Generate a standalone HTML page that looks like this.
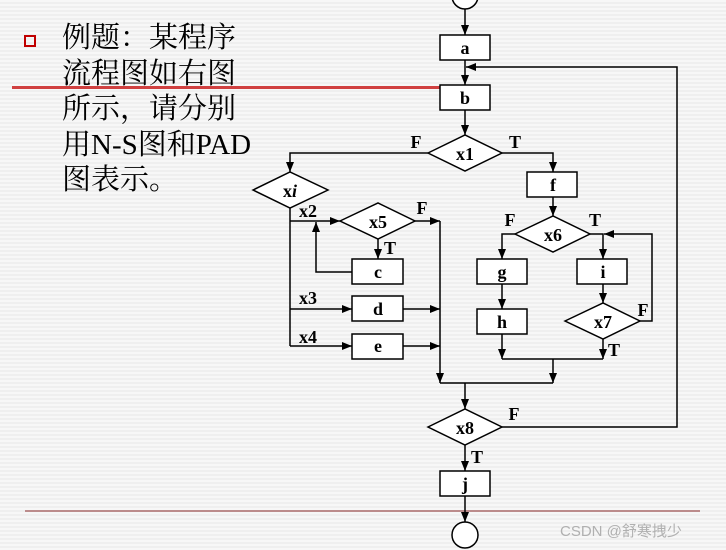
<!DOCTYPE html>
<html><head><meta charset="utf-8"><style>
html,body{margin:0;padding:0;}
body{width:726px;height:550px;overflow:hidden;background:repeating-linear-gradient(#f7f7f7 0,#f7f7f7 2px,#efefef 2px,#efefef 4px);position:relative;}
.t{position:absolute;left:62px;top:21px;font-family:"Liberation Serif","Noto Serif CJK SC",serif;font-size:29px;line-height:35.5px;color:#000;white-space:nowrap;}
</style></head><body>
<div style="position:absolute;left:12px;top:86px;width:428px;height:3px;background:#d04040;"></div>
<div style="position:absolute;left:24px;top:35px;width:8px;height:8px;border:2px solid #c00000;"></div>
<div class="t">例题：某程序<br>流程图如右图<br>所示，请分别<br>用N-S图和PAD<br>图表示。</div>
<svg width="726" height="550" style="position:absolute;left:0;top:0" xmlns="http://www.w3.org/2000/svg">
<defs><marker id="a" markerWidth="10" markerHeight="8" refX="10" refY="4" orient="auto" markerUnits="userSpaceOnUse"><path d="M0,0 L10,4 L0,8 z" fill="#000"/></marker></defs>
<line x1="25" y1="511" x2="700" y2="511" stroke="#8a2a2a" stroke-width="1"/>
<g stroke="#000" stroke-width="1.5" fill="none">
<circle cx="465" cy="-4" r="13" fill="#fff"/>
<line x1="465" y1="9" x2="465" y2="35" marker-end="url(#a)"/>
<rect x="440" y="35" width="50" height="25" fill="#fff"/>
<line x1="465" y1="60" x2="465" y2="85" marker-end="url(#a)"/>
<rect x="440" y="85" width="50" height="25" fill="#fff"/>
<line x1="465" y1="110" x2="465" y2="135" marker-end="url(#a)"/>
<polygon points="428,153 465,135 502,153 465,171" fill="#fff"/>
<polyline points="428,153 290,153 290,172" marker-end="url(#a)"/>
<polygon points="253,190 290,172 328,190 290,208" fill="#fff"/>
<line x1="290" y1="208" x2="290" y2="346"/>
<line x1="290" y1="221" x2="340" y2="221" marker-end="url(#a)"/>
<polygon points="340,221 378,203 415,221 378,239" fill="#fff"/>
<line x1="415" y1="221" x2="440" y2="221" marker-end="url(#a)"/>
<line x1="440" y1="221" x2="440" y2="383" marker-end="url(#a)"/>
<line x1="378" y1="239" x2="378" y2="259" marker-end="url(#a)"/>
<rect x="352" y="259" width="51" height="25" fill="#fff"/>
<polyline points="352,272 316,272 316,222" marker-end="url(#a)"/>
<line x1="290" y1="309" x2="352" y2="309" marker-end="url(#a)"/>
<rect x="352" y="296" width="51" height="25" fill="#fff"/>
<line x1="403" y1="309" x2="440" y2="309" marker-end="url(#a)"/>
<line x1="290" y1="346" x2="352" y2="346" marker-end="url(#a)"/>
<rect x="352" y="334" width="51" height="25" fill="#fff"/>
<line x1="403" y1="346" x2="440" y2="346" marker-end="url(#a)"/>
<polyline points="502,153 553,153 553,172" marker-end="url(#a)"/>
<rect x="527" y="172" width="50" height="25" fill="#fff"/>
<line x1="553" y1="197" x2="553" y2="216" marker-end="url(#a)"/>
<polygon points="515,234 553,216 590,234 553,252" fill="#fff"/>
<polyline points="515,234 502,234 502,259" marker-end="url(#a)"/>
<rect x="477" y="259" width="50" height="25" fill="#fff"/>
<line x1="502" y1="284" x2="502" y2="309" marker-end="url(#a)"/>
<rect x="477" y="309" width="50" height="25" fill="#fff"/>
<line x1="502" y1="334" x2="502" y2="359" marker-end="url(#a)"/>
<polyline points="590,234 603,234 603,259" marker-end="url(#a)"/>
<rect x="577" y="259" width="50" height="25" fill="#fff"/>
<line x1="603" y1="284" x2="603" y2="303" marker-end="url(#a)"/>
<polygon points="565,321 603,303 640,321 603,339" fill="#fff"/>
<polyline points="640,321 652,321 652,234 604,234" marker-end="url(#a)"/>
<line x1="603" y1="339" x2="603" y2="359" marker-end="url(#a)"/>
<line x1="502" y1="359" x2="603" y2="359"/>
<line x1="553" y1="359" x2="553" y2="383" marker-end="url(#a)"/>
<line x1="440" y1="383" x2="553" y2="383"/>
<line x1="465" y1="383" x2="465" y2="409" marker-end="url(#a)"/>
<polygon points="428,427 465,409 502,427 465,445" fill="#fff"/>
<polyline points="502,427 677,427 677,67 466,67" marker-end="url(#a)"/>
<line x1="465" y1="445" x2="465" y2="471" marker-end="url(#a)"/>
<rect x="440" y="471" width="50" height="25" fill="#fff"/>
<line x1="465" y1="496" x2="465" y2="522" marker-end="url(#a)"/>
<circle cx="465" cy="535" r="13" fill="#fff"/>
</g>
<g font-family="Liberation Serif,serif" font-weight="bold" font-size="18" text-anchor="middle" fill="#000">
<text x="465" y="54">a</text><text x="465" y="104">b</text>
<text x="465" y="160">x1</text><text x="290" y="197">x<tspan font-style="italic">i</tspan></text>
<text x="378" y="228">x5</text><text x="378" y="278">c</text><text x="378" y="315">d</text><text x="378" y="352">e</text>
<text x="553" y="191">f</text><text x="553" y="241">x6</text><text x="502" y="278">g</text><text x="502" y="328">h</text>
<text x="603" y="278">i</text><text x="603" y="328">x7</text><text x="465" y="434">x8</text><text x="465" y="490">j</text>
<text x="416" y="148">F</text><text x="515" y="148">T</text>
<text x="308" y="217">x2</text><text x="308" y="304">x3</text><text x="308" y="343">x4</text>
<text x="422" y="214">F</text><text x="390" y="254">T</text>
<text x="510" y="226">F</text><text x="595" y="226">T</text>
<text x="643" y="316">F</text><text x="614" y="356">T</text>
<text x="514" y="420">F</text><text x="477" y="463">T</text>
</g>
<text x="560" y="536" font-family="Liberation Sans,Noto Sans CJK SC,sans-serif" font-size="15" fill="#b0b0b0">CSDN @舒寒拽少</text>
</svg>
</body></html>
